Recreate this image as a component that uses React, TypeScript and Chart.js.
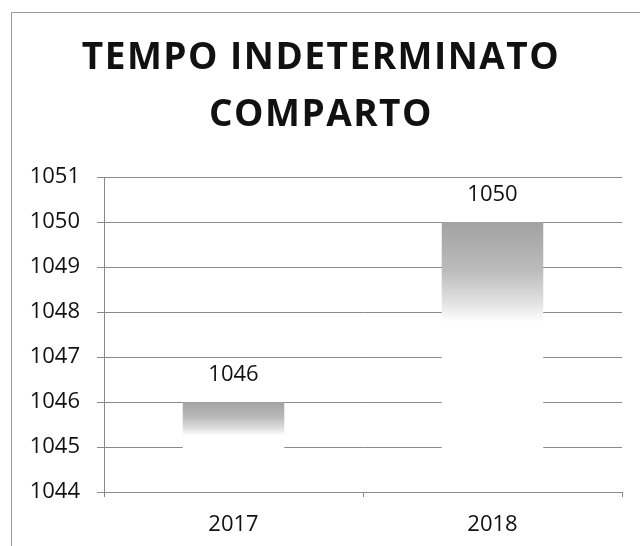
import React, { useEffect, useRef } from "react";
import { Chart, registerables } from "chart.js";

Chart.register(...registerables);

const categories = ["2017", "2018"];
const values = [1046, 1050];
const yMin = 1044;
const yMax = 1051;
const titleLines = ["TEMPO INDETERMINATO", "COMPARTO"];

const FONT = "'Open Sans', 'DejaVu Sans', sans-serif";

const frame = {
  id: "frame",
  beforeDraw(chart: any) {
    const { ctx, width, height } = chart;
    ctx.save();
    ctx.fillStyle = "#ffffff";
    ctx.fillRect(0, 0, width, height);
    ctx.strokeStyle = "#9a9a9a";
    ctx.lineWidth = 1;
    ctx.beginPath();
    ctx.moveTo(11.5, height);
    ctx.lineTo(11.5, 12.5);
    ctx.lineTo(width, 12.5);
    ctx.stroke();
    // title
    ctx.fillStyle = "#111111";
    ctx.font = `bold 37px ${FONT}`;
    ctx.textAlign = "center";
    ctx.textBaseline = "alphabetic";
    try {
      (ctx as any).letterSpacing = "1.5px";
    } catch (e) {}
    ctx.fillText(titleLines[0], 321, 69);
    ctx.fillText(titleLines[1], 321, 126);
    try {
      (ctx as any).letterSpacing = "0px";
    } catch (e) {}
    ctx.restore();
  },
};

const dataLabels = {
  id: "dataLabels",
  afterDatasetsDraw(chart: any) {
    const { ctx } = chart;
    const meta = chart.getDatasetMeta(0);
    ctx.save();
    ctx.font = `22px ${FONT}`;
    ctx.fillStyle = "#111111";
    ctx.textAlign = "center";
    ctx.textBaseline = "middle";
    meta.data.forEach((el: any, i: number) => {
      ctx.fillText(String(values[i]), el.x, el.y - 27);
    });
    ctx.restore();
  },
};

export default function App() {
  const ref = useRef<HTMLCanvasElement | null>(null);
  useEffect(() => {
    if (!ref.current) return;
    const chart = new Chart(ref.current, {
      type: "bar",
      data: {
        labels: categories,
        datasets: [
          {
            data: values,
            borderWidth: 0,
            barPercentage: 0.8,
            categoryPercentage: 0.49,
            backgroundColor: (c: any) => {
              const chartObj = c.chart;
              const area = chartObj.chartArea;
              if (!area || c.dataIndex === undefined) return "#b0b0b0";
              const ys = chartObj.scales.y;
              const top = ys.getPixelForValue(values[c.dataIndex]);
              const bottom = ys.getPixelForValue(yMin);
              const g = chartObj.ctx.createLinearGradient(0, top, 0, bottom);
              g.addColorStop(0, "#a2a2a2");
              g.addColorStop(0.18, "#bcbcbc");
              g.addColorStop(0.3, "#e2e2e2");
              g.addColorStop(0.37, "#ffffff");
              g.addColorStop(1, "#ffffff");
              return g;
            },
          },
        ],
      },
      options: {
        responsive: false,
        animation: false,
        layout: { padding: { left: 0, right: 18, top: 177, bottom: 0 } },
        plugins: {
          legend: { display: false },
          tooltip: { enabled: false },
          title: { display: false },
        },
        scales: {
          x: {
            grid: {
              display: true,
              drawOnChartArea: false,
              drawTicks: true,
              tickLength: 5,
              color: "#8a8a8a",
            },
            border: { display: false },
            ticks: {
              color: "#111111",
              font: { family: FONT, size: 22 },
              padding: 15,
            },
            afterFit: (s: any) => {
              s.height = 54;
            },
          },
          y: {
            min: yMin,
            max: yMax,
            grid: {
              color: "#8a8a8a",
              tickLength: 7,
              drawTicks: true,
            },
            border: { display: true, color: "#8a8a8a" },
            ticks: {
              stepSize: 1,
              color: "#111111",
              font: { family: FONT, size: 22 },
              padding: 17,
              callback: (v: any) => String(v),
            },
            afterFit: (s: any) => {
              s.width = 104;
            },
          },
        },
      },
      plugins: [frame, dataLabels],
    });
    return () => chart.destroy();
  }, []);
  return (
    <div style={{ position: "absolute", left: 0, top: 0, width: 640, height: 546 }}>
      <canvas ref={ref} width={640} height={546} />
    </div>
  );
}
